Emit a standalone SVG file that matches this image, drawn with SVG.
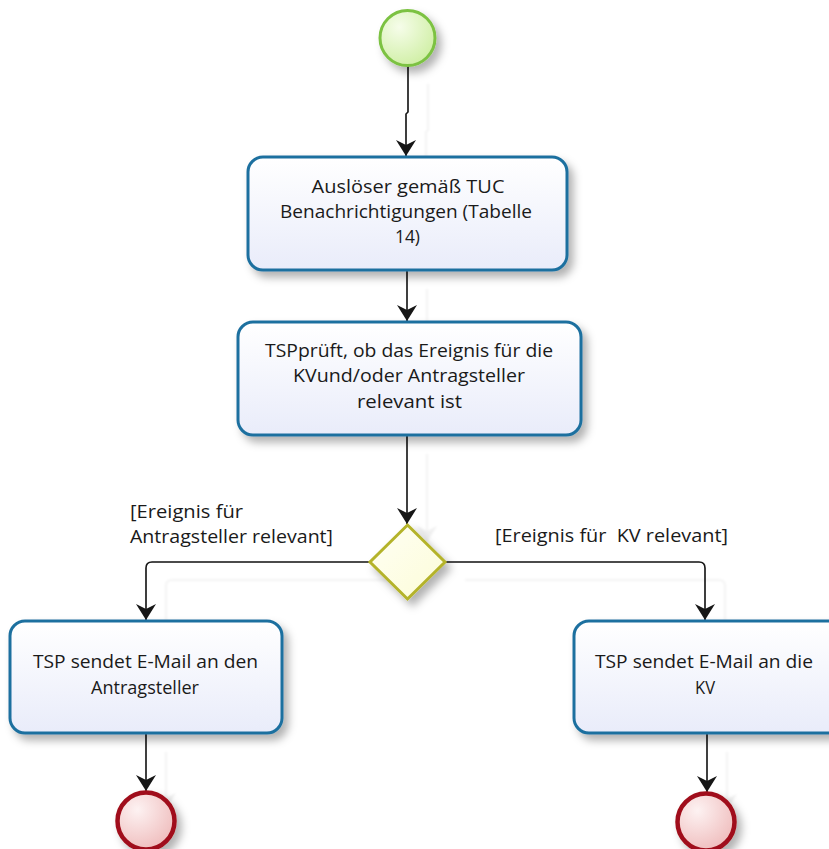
<svg xmlns="http://www.w3.org/2000/svg" width="829" height="849" viewBox="0 0 829 849">
<defs>
<style>
.task{fill:url(#gTask);stroke:#1e6f9f;stroke-width:3}
.txt{font-family:"Open Sans","Noto Sans","DejaVu Sans",sans-serif;font-size:18px;fill:#1a1a1a;white-space:pre}
.mid{text-anchor:middle}
.con{fill:none;stroke:#141414;stroke-width:1.6;marker-end:url(#arr)}
.endc{fill:url(#gEnd);stroke:#a0101a;stroke-width:4.5}
</style>
<linearGradient id="gTask" x1="0" y1="0" x2="0" y2="1">
<stop offset="0" stop-color="#ffffff"/>
<stop offset="1" stop-color="#e9ecfa"/>
</linearGradient>
<radialGradient id="gStart" cx="0.35" cy="0.3" r="0.8">
<stop offset="0" stop-color="#f6fdea"/>
<stop offset="1" stop-color="#cdeea0"/>
</radialGradient>
<radialGradient id="gEnd" cx="0.35" cy="0.3" r="0.8">
<stop offset="0" stop-color="#fdf2f2"/>
<stop offset="1" stop-color="#eeb9b9"/>
</radialGradient>
<linearGradient id="gDia" x1="0" y1="0" x2="1" y2="1">
<stop offset="0" stop-color="#fffff4"/>
<stop offset="1" stop-color="#fcfcd8"/>
</linearGradient>
<filter id="sh" x="-20%" y="-20%" width="150%" height="160%">
<feDropShadow dx="5" dy="6" stdDeviation="4" flood-color="#000" flood-opacity="0.3"/>
</filter>
<filter id="csh" x="-10%" y="-10%" width="130%" height="130%">
<feDropShadow dx="20" dy="18" stdDeviation="1" flood-color="#000" flood-opacity="0.06"/>
</filter>
<marker id="arr" viewBox="0 0 16 20" refX="16" refY="10" markerWidth="16" markerHeight="20" markerUnits="userSpaceOnUse" orient="auto">
<path d="M0,0 L16,10 L0,20 L5,10 Z" fill="#141414"/>
</marker>
</defs>
<rect width="829" height="849" fill="#ffffff"/>

<g id="connectors" filter="url(#csh)">
<path class="con" d="M408,66 V112 L406,114 V156"/>
<path class="con" d="M407,271 V321"/>
<path class="con" d="M407,436 V524"/>
<path class="con" d="M370,562 H152 Q146,562 146,568 V620"/>
<path class="con" d="M445,562 H699 Q705,562 705,568 V620"/>
<path class="con" d="M146,734 V791"/>
<path class="con" d="M707,734 V792"/>
</g>

<g id="labels">
<text class="txt" x="130" y="518" textLength="113" lengthAdjust="spacingAndGlyphs">[Ereignis für</text>
<text class="txt" x="130" y="543" textLength="203" lengthAdjust="spacingAndGlyphs">Antragsteller relevant]</text>
<text class="txt" x="495" y="542" textLength="233" lengthAdjust="spacingAndGlyphs">[Ereignis für  KV relevant]</text>
</g>

<g id="start">
<circle cx="407.5" cy="38" r="27.5" fill="url(#gStart)" stroke="#7cc242" stroke-width="3" filter="url(#sh)"/>
</g>

<g id="task1">
<rect class="task" x="248" y="157" width="319" height="113" rx="15" filter="url(#sh)"/>
<text class="txt mid" x="408" y="193" textLength="193" lengthAdjust="spacingAndGlyphs">Auslöser gemäß TUC</text>
<text class="txt mid" x="406" y="218" textLength="252" lengthAdjust="spacingAndGlyphs">Benachrichtigungen (Tabelle</text>
<text class="txt mid" x="407.5" y="243" textLength="25" lengthAdjust="spacingAndGlyphs">14)</text>
</g>

<g id="task2">
<rect class="task" x="238" y="322" width="343" height="113" rx="15" filter="url(#sh)"/>
<text class="txt mid" x="409" y="357" textLength="288" lengthAdjust="spacingAndGlyphs">TSPprüft, ob das Ereignis für die</text>
<text class="txt mid" x="409" y="382" textLength="232" lengthAdjust="spacingAndGlyphs">KVund/oder Antragsteller</text>
<text class="txt mid" x="409.5" y="408" textLength="105" lengthAdjust="spacingAndGlyphs">relevant ist</text>
</g>

<g id="gateway">
<polygon points="407.5,525 445,562 407.5,599 370,562" fill="url(#gDia)" stroke="#b4b32a" stroke-width="3" filter="url(#sh)"/>
</g>

<g id="task3">
<rect class="task" x="10" y="621" width="272" height="112" rx="15" filter="url(#sh)"/>
<text class="txt mid" x="145.5" y="668" textLength="225" lengthAdjust="spacingAndGlyphs">TSP sendet E-Mail an den</text>
<text class="txt mid" x="145" y="694" textLength="108" lengthAdjust="spacingAndGlyphs">Antragsteller</text>
</g>

<g id="task4">
<rect class="task" x="574" y="621" width="272" height="112" rx="15" filter="url(#sh)"/>
<text class="txt mid" x="704" y="668" textLength="218" lengthAdjust="spacingAndGlyphs">TSP sendet E-Mail an die</text>
<text class="txt mid" x="705" y="694" textLength="20" lengthAdjust="spacingAndGlyphs">KV</text>
</g>

<g id="end1">
<circle class="endc" cx="146" cy="821" r="28.5" filter="url(#sh)"/>
</g>

<g id="end2">
<circle class="endc" cx="706" cy="822" r="28.5" filter="url(#sh)"/>
</g>
</svg>
